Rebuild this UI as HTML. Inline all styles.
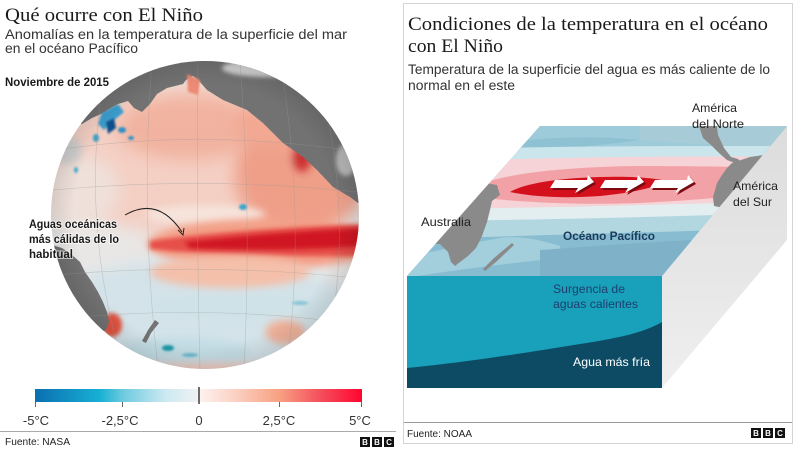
<!DOCTYPE html>
<html><head><meta charset="utf-8">
<style>
html,body{margin:0;padding:0;background:#fff;}
svg{display:block}
.s{font-family:"Liberation Sans",sans-serif}
.f{font-family:"Liberation Serif",serif}
</style></head><body>
<svg width="800" height="450" viewBox="0 0 800 450" xmlns="http://www.w3.org/2000/svg">
<defs>
 <clipPath id="gc"><circle cx="205" cy="215" r="154"/></clipPath>
 <filter id="b1" x="-50%" y="-50%" width="200%" height="200%"><feGaussianBlur stdDeviation="1"/></filter>
 <filter id="b2" x="-50%" y="-50%" width="200%" height="200%"><feGaussianBlur stdDeviation="2"/></filter>
 <filter id="b4" x="-50%" y="-50%" width="200%" height="200%"><feGaussianBlur stdDeviation="4"/></filter>
 <filter id="b8" x="-50%" y="-50%" width="200%" height="200%"><feGaussianBlur stdDeviation="8"/></filter>
 <radialGradient id="limb" cx="205" cy="215" r="154" gradientUnits="userSpaceOnUse">
   <stop offset="0.85" stop-color="#000" stop-opacity="0"/>
   <stop offset="1" stop-color="#000" stop-opacity="0.10"/>
 </radialGradient>
 <linearGradient id="cb" x1="0" x2="1" y1="0" y2="0">
   <stop offset="0" stop-color="#0a6fb0"/>
   <stop offset="0.199" stop-color="#18b0d4"/>
   <stop offset="0.27" stop-color="#6ecbe0"/>
   <stop offset="0.40" stop-color="#cde9f1"/>
   <stop offset="0.496" stop-color="#eef2f3"/>
   <stop offset="0.504" stop-color="#fdf2ef"/>
   <stop offset="0.606" stop-color="#fbd3c6"/>
   <stop offset="0.746" stop-color="#f8a182"/>
   <stop offset="0.86" stop-color="#f45660"/>
   <stop offset="1" stop-color="#ff0530"/>
 </linearGradient>
 <linearGradient id="side" x1="0" x2="0" y1="0" y2="1">
   <stop offset="0" stop-color="#dcdcdc"/>
   <stop offset="1" stop-color="#efefef"/>
 </linearGradient>
 <clipPath id="tf"><polygon points="540,126 787,126 662,276 407,276"/></clipPath>
</defs>

<rect width="800" height="450" fill="#fff"/>

<!-- LEFT PANEL TEXT -->
<text class="f" x="5" y="21" font-size="18.5" fill="#1a1a1a" textLength="198" lengthAdjust="spacingAndGlyphs">Qué ocurre con El Niño</text>
<text class="s" x="5" y="39" font-size="13.5" fill="#333" textLength="342" lengthAdjust="spacingAndGlyphs">Anomalías en la temperatura de la superficie del mar</text>
<text class="s" x="5" y="53" font-size="13.5" fill="#333" textLength="133" lengthAdjust="spacingAndGlyphs">en el océano Pacífico</text>

<!-- GLOBE -->
<g clip-path="url(#gc)">
  <rect x="40" y="55" width="330" height="320" fill="#e9e7e6"/>
  <ellipse cx="200" cy="320" rx="165" ry="62" fill="#d3e3e9" filter="url(#b8)"/>
  <ellipse cx="180" cy="352" rx="70" ry="14" fill="#c2dce4" filter="url(#b4)"/>
  <ellipse cx="240" cy="306" rx="90" ry="12" fill="#cfe2e8" filter="url(#b4)"/>
  <ellipse cx="210" cy="160" rx="165" ry="78" fill="#f4cfc3" filter="url(#b8)"/>
  <ellipse cx="80" cy="190" rx="40" ry="35" fill="#efe0da" filter="url(#b8)"/>
  <ellipse cx="190" cy="128" rx="72" ry="32" fill="#f1ae9a" opacity="0.85" filter="url(#b8)"/>
  <ellipse cx="300" cy="175" rx="65" ry="62" fill="#ef9f88" filter="url(#b8)"/>
  <ellipse cx="270" cy="125" rx="35" ry="22" fill="#f2a892" filter="url(#b8)"/>
  <ellipse cx="205" cy="215" rx="60" ry="10" fill="#f6e4dc" filter="url(#b4)"/>
  <ellipse cx="302" cy="158" rx="9" ry="14" fill="#c8262c" opacity="0.9" filter="url(#b4)"/>
  <ellipse cx="265" cy="244" rx="118" ry="25" fill="#f3a088" filter="url(#b4)"/>
  <path d="M150,241 C200,233 300,226 368,224 L368,256 C300,257 200,255 150,249 Z" fill="#e65048" filter="url(#b2)"/>
  <path d="M185,242 C240,236 300,231 368,228 L368,246 C300,250 240,251 190,248 Z" fill="#d01220" filter="url(#b2)"/>
  <ellipse cx="230" cy="272" rx="80" ry="16" fill="#f4c0aa" filter="url(#b4)"/>
  <ellipse cx="285" cy="332" rx="20" ry="12" fill="#f0b098" filter="url(#b4)"/>
  <ellipse cx="112" cy="325" rx="10" ry="12" fill="#e0523f" filter="url(#b2)"/>
  <ellipse cx="210" cy="373" rx="130" ry="10" fill="#efc8bc" filter="url(#b4)"/>
  <ellipse cx="66" cy="150" rx="16" ry="14" fill="#cfcfcf" filter="url(#b4)"/>
  <!-- blue specks -->
  <g filter="url(#b1)">
    <path d="M102,112 L118,104 L124,112 L112,122 L104,130 L98,124 Z" fill="#3a9ccc"/>
    <path d="M106,122 L114,118 L116,128 L108,134 Z" fill="#0d4f8c"/>
    <ellipse cx="122" cy="130" rx="4" ry="3" fill="#2d8fc2"/>
    <ellipse cx="131" cy="138" rx="3" ry="2" fill="#2d8fc2"/>
    <ellipse cx="96" cy="138" rx="3" ry="4" fill="#3aa0c8"/>
    <ellipse cx="243" cy="207" rx="4" ry="3" fill="#3aa6cc"/>
    <ellipse cx="76" cy="170" rx="2" ry="3" fill="#4aaecc"/>
    <ellipse cx="168" cy="348" rx="6" ry="3" fill="#1c9aa8"/>
    <ellipse cx="190" cy="355" rx="8" ry="2" fill="#6cb8cc"/>
    <ellipse cx="300" cy="303" rx="8" ry="2" fill="#8ac4d4"/>
  </g>
  <!-- land -->
  <g fill="#727272">
    <path d="M0,0 L420,0 L420,215 L358,203 L350,197 L333,187 L317,170 L303,157 L283,143 L263,123 L247,110 L223,100 L207,90 L200,82 L193,76 L186,80 L183,84 L167,88 L157,94 L150,104 L142,112 L134,108 L128,101 L118,104 L109,109 L101,114 L92,118 L82,124 L0,124 Z"/>
    <path d="M40,243 L52,245 L62,248 L72,255 L80,262 L85,272 L92,282 L98,292 L103,302 L107,312 L109,322 L106,330 L100,333 L90,320 L75,300 L60,280 L40,262 Z"/>
    <path d="M155,320 L159,323 L151,333 L146,343 L142,341 L148,330 Z"/>
  </g>
  <ellipse cx="270" cy="68" rx="48" ry="9" fill="#d2d2d2" filter="url(#b2)"/>
  <ellipse cx="346" cy="160" rx="10" ry="16" fill="#b8b8b8" filter="url(#b2)"/>
  <path d="M187,74 L200,80 L198,95 L188,92 Z" fill="#ec8a74" filter="url(#b1)"/>
  <!-- grid -->
  <g fill="none" stroke="#9a9a9a" stroke-width="0.6" opacity="0.45">
    <path d="M55,150 Q205,128 360,152"/>
    <path d="M52,190 Q205,176 358,192"/>
    <path d="M55,275 Q205,262 356,278"/>
    <path d="M70,318 Q205,305 340,322"/>
    <path d="M105,70 Q80,215 120,355"/>
    <path d="M152,62 Q140,215 158,368"/>
    <path d="M198,60 Q196,215 200,370"/>
    <path d="M240,62 Q252,215 244,368"/>
    <path d="M282,72 Q305,215 288,358"/>
    <path d="M322,92 Q352,215 330,335"/>
  </g>
  <circle cx="205" cy="215" r="154" fill="url(#limb)"/>
</g>

<text class="s" x="5" y="86" font-size="11.5" font-weight="bold" fill="#1a1a1a" textLength="104" lengthAdjust="spacingAndGlyphs">Noviembre de 2015</text>

<!-- annotation -->
<path d="M125,215 Q158,196 182,232" fill="none" stroke="#222" stroke-width="1"/>
<path d="M178,230 L183,235 L184,228" fill="none" stroke="#222" stroke-width="1"/>
<g class="s" font-size="11.5" font-weight="bold" fill="#1a1a1a" stroke="#fff" stroke-width="2" paint-order="stroke" stroke-opacity="0.6">
  <text x="29" y="228" textLength="88" lengthAdjust="spacingAndGlyphs">Aguas oceánicas</text>
  <text x="29" y="243" textLength="90" lengthAdjust="spacingAndGlyphs">más cálidas de lo</text>
  <text x="29" y="258" textLength="44" lengthAdjust="spacingAndGlyphs">habitual</text>
</g>

<!-- colorbar -->
<rect x="35" y="389" width="327" height="13" fill="url(#cb)"/>
<g stroke="#666" stroke-width="1">
  <line x1="35.5" y1="402" x2="35.5" y2="407"/>
  <line x1="122.5" y1="402" x2="122.5" y2="407"/>
  <line x1="279.5" y1="402" x2="279.5" y2="407"/>
  <line x1="361.5" y1="402" x2="361.5" y2="407"/>
</g>
<line x1="199" y1="387" x2="199" y2="404" stroke="#111" stroke-width="1.2"/>
<g class="s" font-size="13" fill="#333" text-anchor="middle">
  <text x="36" y="425">-5°C</text>
  <text x="120" y="425">-2,5°C</text>
  <text x="199" y="425">0</text>
  <text x="279" y="425">2,5°C</text>
  <text x="360" y="425">5°C</text>
</g>
<line x1="0" y1="431.5" x2="396" y2="431.5" stroke="#aaa" stroke-width="1"/>
<text class="s" x="5" y="445" font-size="10" fill="#222" textLength="65" lengthAdjust="spacingAndGlyphs">Fuente: NASA</text>
<g>
  <rect x="360" y="437" width="10" height="10" fill="#111"/>
  <rect x="372" y="437" width="10" height="10" fill="#111"/>
  <rect x="384" y="437" width="10" height="10" fill="#111"/>
  <g class="s" font-size="8" font-weight="bold" fill="#fff" text-anchor="middle">
    <text x="365" y="445">B</text><text x="377" y="445">B</text><text x="389" y="445">C</text>
  </g>
</g>

<!-- RIGHT PANEL -->
<rect x="403.5" y="3.5" width="389" height="440" fill="none" stroke="#d4d4d4" stroke-width="1"/>
<text class="f" x="408" y="30" font-size="18.5" fill="#1a1a1a" textLength="360" lengthAdjust="spacingAndGlyphs">Condiciones de la temperatura en el océano</text>
<text class="f" x="408" y="52" font-size="18.5" fill="#1a1a1a" textLength="95" lengthAdjust="spacingAndGlyphs">con El Niño</text>
<text class="s" x="408" y="74" font-size="13.5" fill="#333" textLength="362" lengthAdjust="spacingAndGlyphs">Temperatura de la superficie del agua es más caliente de lo</text>
<text class="s" x="408" y="90" font-size="13.5" fill="#333" textLength="107" lengthAdjust="spacingAndGlyphs">normal en el este</text>

<!-- side face -->
<polygon points="662,276 787,126 787,240 662,388" fill="url(#side)"/>
<!-- front face -->
<rect x="407" y="276" width="255" height="112" fill="#19a0ba"/>
<path d="M407,368 C470,362 530,352 580,344 C620,338 645,332 662,322 L662,388 L407,388 Z" fill="#0d4b64"/>

<!-- top face -->
<g clip-path="url(#tf)">
  <rect x="400" y="120" width="400" height="160" fill="#88bcd0"/>
  <rect x="400" y="120" width="400" height="32" fill="#9dcbd9"/>
  <path d="M640,120 L800,120 L800,150 C740,146 690,144 640,140 Z" fill="#a8cbd8"/>
  <path d="M460,150 C520,138 580,134 640,140 C600,146 540,150 460,156 Z" fill="#8ec2d3"/>
  <path d="M380,152 C500,146 650,146 800,146 L800,162 L380,168 Z" fill="#cbe5ec"/>
  <path d="M380,164 C480,160 600,155 800,157 L800,205 C700,210 600,212 380,214 Z" fill="#f5d3d6"/>
  <path d="M470,188 C500,174 560,167 640,166 C700,166 740,167 790,168 L790,190 C740,196 700,200 640,203 C580,205 520,203 470,196 Z" fill="#f2a2a7"/>
  <path d="M510,192 C525,183 560,178 600,177 C630,176 655,178 667,181 C655,188 630,193 600,196 C570,198 540,198 510,192 Z" fill="#d4101c"/>
  <path d="M380,210 C500,208 650,206 800,200 L800,214 C650,220 500,222 380,224 Z" fill="#e2eef0"/>
  <path d="M380,222 C500,220 650,218 800,212 L800,228 C650,232 520,236 380,240 Z" fill="#b2d7e1"/>
  <path d="M380,262 C420,255 460,245 500,238 C520,235 540,240 560,246 L560,258 C520,262 450,270 380,282 Z" fill="#a3cfdc"/>
  <path d="M540,250 C600,246 660,240 800,236 L800,280 L540,280 Z" fill="#7fb2c8"/>
  <!-- land -->
  <g fill="#8a8a8a">
    <path d="M486,183 L497,185 L500,195 L492,201 L490,210 L487,222 L482,236 L476,248 L468,256 L460,262 L455,266 L451,262 L448,252 L440,244 L400,244 L400,183 Z"/>
    <path d="M512,243 L514,245 L496,262 L485,271 L483,269 L494,258 Z"/>
    <path d="M697,120 L716,120 L718,135 L724,148 L731,157 L738,159 L742,163 L735,163 L727,160 L719,153 L711,145 L703,138 Z"/>
    <path d="M732,163 L750,157 L800,150 L800,200 L719,207 L714,206 L713,197 L717,183 L722,175 L727,168 Z"/>
  </g>
  <!-- arrows -->
  <g>
    <polygon points="557,182 589,182 590,177 596,184 577,195 580,190 552,190" fill="#7a0a10"/>
    <polygon points="555,180 587,180 588,175 594,182 575,193 578,188 550,188" fill="#fff"/>
    <polygon points="607,182 639,182 640,177 646,184 627,195 630,190 602,190" fill="#7a0a10"/>
    <polygon points="605,180 637,180 638,175 644,182 625,193 628,188 600,188" fill="#fff"/>
    <polygon points="657,182 689,182 690,177 696,184 677,195 680,190 652,190" fill="#7a0a10"/>
    <polygon points="655,180 687,180 688,175 694,182 675,193 678,188 650,188" fill="#fff"/>
  </g>
</g>

<g class="s" font-size="12" fill="#222">
  <text x="692" y="112" textLength="45" lengthAdjust="spacingAndGlyphs">América</text>
  <text x="692" y="128" textLength="52" lengthAdjust="spacingAndGlyphs">del Norte</text>
  <text x="733" y="190" textLength="45" lengthAdjust="spacingAndGlyphs">América</text>
  <text x="733" y="206" textLength="39" lengthAdjust="spacingAndGlyphs">del Sur</text>
  <text x="421" y="226" textLength="50" lengthAdjust="spacingAndGlyphs">Australia</text>
</g>
<text class="s" x="563" y="240" font-size="12" font-weight="bold" fill="#1b3a5c" textLength="92" lengthAdjust="spacingAndGlyphs">Océano Pacífico</text>
<text class="s" x="553" y="293" font-size="12" fill="#1d3f6e" textLength="72" lengthAdjust="spacingAndGlyphs">Surgencia de</text>
<text class="s" x="553" y="308" font-size="12" fill="#1d3f6e" textLength="85" lengthAdjust="spacingAndGlyphs">aguas calientes</text>
<text class="s" x="573" y="366" font-size="12" fill="#fff" textLength="77" lengthAdjust="spacingAndGlyphs">Agua más fría</text>

<line x1="404" y1="422.5" x2="792" y2="422.5" stroke="#999" stroke-width="1"/>
<text class="s" x="407" y="437" font-size="10" fill="#222" textLength="65" lengthAdjust="spacingAndGlyphs">Fuente: NOAA</text>
<g>
  <rect x="751" y="428" width="10" height="10" fill="#111"/>
  <rect x="763" y="428" width="10" height="10" fill="#111"/>
  <rect x="775" y="428" width="10" height="10" fill="#111"/>
  <g class="s" font-size="8" font-weight="bold" fill="#fff" text-anchor="middle">
    <text x="756" y="436">B</text><text x="768" y="436">B</text><text x="780" y="436">C</text>
  </g>
</g>
</svg>
</body></html>
